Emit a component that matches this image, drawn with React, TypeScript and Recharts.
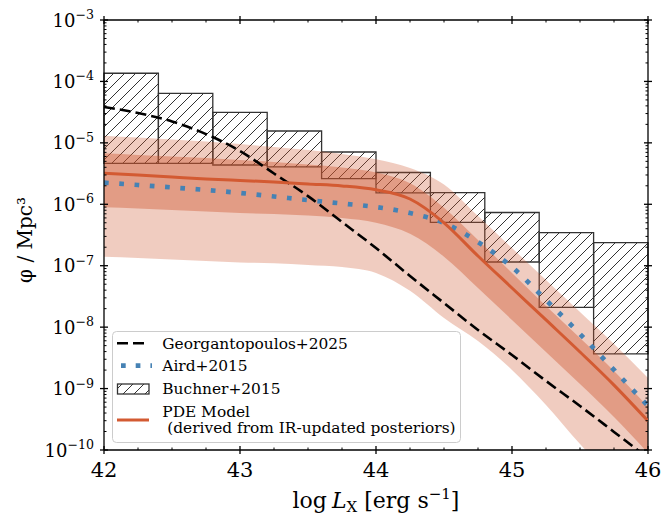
import { ComposedChart, Area, Line, XAxis, YAxis, ReferenceArea, ReferenceLine } from "recharts";

// log L_X grid (erg/s)
const logL = [42, 42.25, 42.5, 42.75, 43, 43.25, 43.5, 43.75, 44, 44.25, 44.5, 44.75, 45, 45.25, 45.5, 45.75, 46];

// PDE model median and credible bands
const pdeMedian = [3.19e-6, 3.0e-6, 2.78e-6, 2.58e-6, 2.44e-6, 2.31e-6, 2.14e-6, 1.99e-6, 1.72e-6, 1.22e-6, 5.0e-7, 1.44e-7, 4.34e-8, 1.31e-8, 3.94e-9, 1.14e-9, 2.97e-10];
const pdeInnerHi = [6.76e-6, 6.35e-6, 6.0e-6, 5.67e-6, 5.26e-6, 4.88e-6, 4.44e-6, 3.97e-6, 3.3e-6, 2.2e-6, 8.8e-7, 2.62e-7, 7.61e-8, 2.21e-8, 6.66e-9, 1.93e-9, 5.01e-10];
const pdeInnerLo = [8.93e-7, 8.54e-7, 8.07e-7, 7.63e-7, 7.22e-7, 6.95e-7, 6.57e-7, 5.98e-7, 5.0e-7, 3.3e-7, 1.4e-7, 4.34e-8, 1.31e-8, 3.94e-9, 1.19e-9, 3.45e-10, 8.94e-11];
const pdeOuterHi = [1.31e-5, 1.22e-5, 1.13e-5, 1.05e-5, 9.58e-6, 8.56e-6, 7.65e-6, 6.59e-6, 5.4e-6, 3.9e-6, 2.1e-6, 6.45e-7, 1.94e-7, 5.86e-8, 1.76e-8, 5.32e-9, 1.49e-9];
const pdeOuterLo = [1.4e-7, 1.34e-7, 1.26e-7, 1.19e-7, 1.13e-7, 1.1e-7, 1.03e-7, 9.5e-8, 7.6e-8, 3.9e-8, 1.41e-8, 5.95e-9, 2.01e-9, 5.4e-10, 1.25e-10, 3.25e-11, 8.12e-12];

// comparison curves
const aird = [2.25e-6, 2.06e-6, 1.88e-6, 1.71e-6, 1.53e-6, 1.34e-6, 1.17e-6, 1.03e-6, 9.03e-7, 7.22e-7, 4.96e-7, 2.43e-7, 9.53e-8, 2.77e-8, 7.74e-9, 2.01e-9, 5.21e-10];
const georgantopoulos = [3.84e-5, 3.06e-5, 2.23e-5, 1.39e-5, 7.37e-6, 3.17e-6, 1.36e-6, 5.15e-7, 1.94e-7, 6.8e-8, 2.47e-8, 8.99e-9, 3.52e-9, 1.33e-9, 5.21e-10, 1.97e-10, 7.41e-11];

// Buchner+2015 binned constraints
const buchnerEdges = [42, 42.4, 42.8, 43.2, 43.6, 44.0, 44.4, 44.8, 45.2, 45.6, 46];
const buchnerHi = [1.36e-4, 6.41e-5, 3.14e-5, 1.56e-5, 7.1e-6, 3.29e-6, 1.55e-6, 7.35e-7, 3.45e-7, 2.37e-7];
const buchnerLo = [4.65e-6, 4.65e-6, 4.36e-6, 4.05e-6, 2.61e-6, 1.53e-6, 5.09e-7, 1.15e-7, 2.1e-8, 3.66e-9];

// ticks
const xMajor = [42, 43, 44, 45, 46];
const xMinorSteps = [0.25, 0.5, 0.75];
const yExponents = [-10, -9, -8, -7, -6, -5, -4, -3];
const yMinorMult = [2, 3, 4, 5, 6, 7, 8, 9];

const xTicks = xMajor.flatMap((m) => (m < 46 ? [m, ...xMinorSteps.map((s) => m + s)] : [m]));
const yTicks = yExponents.flatMap((e) =>
  e < -3 ? [Math.pow(10, e), ...yMinorMult.map((k) => k * Math.pow(10, e))] : [Math.pow(10, e)]
);

const data = logL.map((x, i) => ({
  x,
  pde: pdeMedian[i],
  inner: [pdeInnerLo[i], pdeInnerHi[i]],
  outer: [pdeOuterLo[i], pdeOuterHi[i]],
  aird: aird[i],
  geo: georgantopoulos[i],
}));

const FONT = "'DejaVu Serif', serif";
const TOP = 20;
const BOTTOM = 450;
const LEFT = 104;
const RIGHT = 648;
const RED = "#d35a32";
const BAND = "#cd552d";
const BLUE = "#4682b4";
const EDGE = "#333333";

function XTick(props: any) {
  const { x, payload } = props;
  const v = payload.value;
  const major = Math.abs(v - Math.round(v)) < 1e-6;
  if (!major) {
    return (
      <g>
        <line x1={x} x2={x} y1={BOTTOM} y2={BOTTOM - 2.5} stroke="#000" strokeWidth={1} />
        <line x1={x} x2={x} y1={TOP} y2={TOP + 2.5} stroke="#000" strokeWidth={1} />
      </g>
    );
  }
  return (
    <g>
      <line x1={x} x2={x} y1={BOTTOM - 4} y2={BOTTOM + 4} stroke="#000" strokeWidth={1.3} />
      <line x1={x} x2={x} y1={TOP - 4} y2={TOP + 4} stroke="#000" strokeWidth={1.3} />
      <text x={x} y={477} textAnchor="middle" fontSize={21} fontFamily={FONT} fill="#000">
        {v}
      </text>
    </g>
  );
}

function YTick(props: any) {
  const { y, payload } = props;
  const e = Math.log10(payload.value);
  const major = Math.abs(e - Math.round(e)) < 1e-6;
  if (!major) {
    return (
      <g>
        <line x1={LEFT} x2={LEFT + 2.5} y1={y} y2={y} stroke="#000" strokeWidth={1} />
        <line x1={RIGHT} x2={RIGHT - 2.5} y1={y} y2={y} stroke="#000" strokeWidth={1} />
      </g>
    );
  }
  return (
    <g>
      <line x1={LEFT - 4} x2={LEFT + 4} y1={y} y2={y} stroke="#000" strokeWidth={1.3} />
      <line x1={RIGHT - 4} x2={RIGHT + 4} y1={y} y2={y} stroke="#000" strokeWidth={1.3} />
      <text x={LEFT - 10} y={y + 6.5} textAnchor="end" fontSize={18} fontFamily={FONT} fill="#000">
        10
        <tspan fontSize={12.6} dy={-7.5}>
          {"\u2212" + Math.abs(Math.round(e))}
        </tspan>
      </text>
    </g>
  );
}

export default function App() {
  return (
    <div style={{ position: "fixed", left: 0, top: 0, width: 666, height: 517, background: "#fff", fontFamily: FONT }}>
      <ComposedChart width={666} height={517} data={data} margin={{ top: TOP, right: 666 - RIGHT, bottom: 0, left: 0 }}>
        <defs>
          <pattern id="hatch" patternUnits="userSpaceOnUse" width="11" height="11">
            <path d="M-1,1 l2,-2 M0,11 l11,-11 M10,12 l2,-2" stroke={EDGE} strokeWidth="1" />
          </pattern>
        </defs>
        <XAxis
          dataKey="x"
          type="number"
          domain={[42, 46]}
          allowDataOverflow
          ticks={xTicks}
          interval={0}
          height={517 - BOTTOM}
          tickSize={0}
          tickMargin={0}
          tickLine={false}
          axisLine={{ stroke: "#000", strokeWidth: 1.3 }}
          tick={<XTick />}
        />
        <YAxis
          scale="log"
          type="number"
          domain={[1e-10, 1e-3]}
          allowDataOverflow
          ticks={yTicks}
          interval={0}
          width={LEFT}
          tickSize={0}
          tickMargin={0}
          tickLine={false}
          axisLine={{ stroke: "#000", strokeWidth: 1.3 }}
          tick={<YTick />}
        />
        {buchnerHi.map((hi, i) => (
          <ReferenceArea
            key={`b-${i}`}
            x1={buchnerEdges[i]}
            x2={buchnerEdges[i + 1]}
            y1={buchnerLo[i]}
            y2={hi}
            fill="url(#hatch)"
            fillOpacity={1}
            stroke={EDGE}
            strokeWidth={1.3}
            ifOverflow="visible"
            zIndex={50}
          />
        ))}
        <Area
          dataKey="outer"
          type="monotone"
          fill={BAND}
          fillOpacity={0.3}
          stroke="none"
          isAnimationActive={false}
          zIndex={100}
        />
        <Area
          dataKey="inner"
          type="monotone"
          fill={BAND}
          fillOpacity={0.4}
          stroke="none"
          isAnimationActive={false}
          zIndex={101}
        />
        <Line
          dataKey="geo"
          type="monotone"
          stroke="#000"
          strokeWidth={2.6}
          strokeDasharray="11 5"
          dot={false}
          isAnimationActive={false}
          zIndex={400}
        />
        <Line
          dataKey="aird"
          type="monotone"
          stroke={BLUE}
          strokeWidth={4.7}
          strokeDasharray="4.7 10.6"
          dot={false}
          isAnimationActive={false}
          zIndex={401}
        />
        <Line
          dataKey="pde"
          type="monotone"
          stroke={RED}
          strokeWidth={3}
          dot={false}
          isAnimationActive={false}
          zIndex={402}
        />
        <ReferenceLine y={1e-3} stroke="#000" strokeWidth={1.3} />
        <ReferenceLine x={46} stroke="#000" strokeWidth={1.3} />
      </ComposedChart>

      <svg
        width={666}
        height={517}
        style={{ position: "absolute", left: 0, top: 0, pointerEvents: "none" }}
        fontFamily={FONT}
      >
        <defs>
          <pattern id="hatchLegend" patternUnits="userSpaceOnUse" width="11" height="11">
            <path d="M-1,1 l2,-2 M0,11 l11,-11 M10,12 l2,-2" stroke={EDGE} strokeWidth="1" />
          </pattern>
        </defs>
        {/* axis labels */}
        <text x={376} y={508} textAnchor="middle" fontSize={22} fill="#000">
          log
          <tspan dx={5} fontStyle="italic">L</tspan>
          <tspan fontSize={15} dy={4}>X</tspan>
          <tspan dy={-4}>{" [erg s"}</tspan>
          <tspan fontSize={15} dy={-9}>{"\u22121"}</tspan>
          <tspan dy={9}>]</tspan>
        </text>
        <text transform="translate(32,240) rotate(-90)" textAnchor="middle" fontSize={20} fill="#000">
          {"\u03c6 / Mpc\u00b3"}
        </text>

        {/* legend */}
        <rect x={112.5} y={331.5} width={348} height={111} rx={4} fill="#fff" fillOpacity={0.8} stroke="#cccccc" strokeWidth={1} />
        <line x1={117} x2={149} y1={343.3} y2={343.3} stroke="#000" strokeWidth={2.6} strokeDasharray="11 5" />
        <line x1={121} x2={152} y1={365.7} y2={365.7} stroke={BLUE} strokeWidth={4.7} strokeDasharray="4.7 10" />
        <rect x={117.5} y={384} width={31.5} height={10} fill="url(#hatchLegend)" stroke={EDGE} strokeWidth={1.3} />
        <line x1={117} x2={149} y1={420} y2={420} stroke={RED} strokeWidth={3} />
        <g fontSize={15.4} fill="#000">
          <text x={162.3} y={348.5}>Georgantopoulos+2025</text>
          <text x={162.3} y={370.8}>Aird+2015</text>
          <text x={162.3} y={394.2}>Buchner+2015</text>
          <text x={162.3} y={416.6}>PDE Model</text>
          <text x={162.3} y={433.4} style={{ whiteSpace: "pre" }}>{" (derived from IR-updated posteriors)"}</text>
        </g>
      </svg>
    </div>
  );
}
